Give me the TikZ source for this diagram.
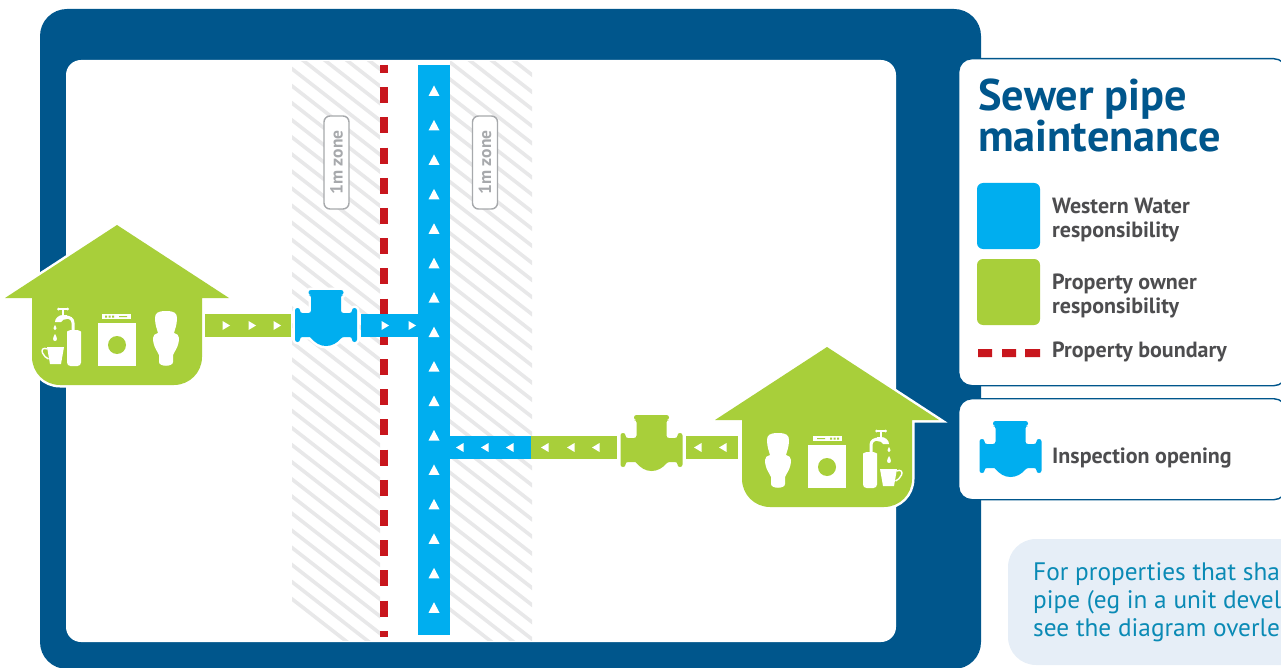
\documentclass[tikz,border=0pt]{standalone}
\usepackage{fontspec}
\setmainfont{PT Sans}
\definecolor{navy}{HTML}{00568C}
\definecolor{wblue}{HTML}{00AEEF}
\definecolor{ogreen}{HTML}{A8CF3A}
\definecolor{bred}{HTML}{C8161D}
\definecolor{hatchg}{HTML}{E8E8E9}
\definecolor{zoneg}{HTML}{A7A9AC}
\definecolor{legtxt}{HTML}{4D4D4F}
\definecolor{notebg}{HTML}{E6EEF7}
\definecolor{notetxt}{HTML}{0A8AB5}
\tikzset{
  x=1pt,y=-1pt,
  pipeline/.style={line width=23pt,line cap=butt},
  redline/.style={bred,line width=8pt,dash pattern=on 16pt off 14.2pt},
  hatchline/.style={hatchg,line width=3.6pt},
  zonebox/.style={draw=zoneg,line width=1.4pt,fill=white,rounded corners=6pt,rotate=90,minimum width=93pt,minimum height=25pt,inner sep=0pt,text=zoneg,font=\fontsize{17.5}{18}\selectfont\bfseries},
  panel/.style={fill=white,draw=navy,line width=1.4pt,rounded corners=13pt},
  swatch/.style={rounded corners=6pt},
  legendlabel/.style={anchor=base west,inner sep=0pt,align=left,text=legtxt,font=\fontsize{22}{24}\selectfont\bfseries},
}
\newcommand{\valvepath}{[rounded corners=2.4pt] (-17.5,0) -- (17.5,0) -- (17.5,5) -- (15,5) -- (15,23) -- (26,23) -- (26,18) -- (31,18) -- (31,52) -- (26,52) -- (26,47) -- (16,47) [sharp corners] .. controls (11,53) and (6,56) .. (0,56) .. controls (-6,56) and (-11,53) .. (-16,47) [rounded corners=2.4pt] -- (-26,47) -- (-26,52) -- (-31,52) -- (-31,18) -- (-26,18) -- (-26,23) -- (-15,23) -- (-15,5) -- (-17.5,5) -- cycle}
\newcommand{\valveicon}[4]{% cx, top, colour, outline
  \begin{scope}[shift={(#1,#2)}]
    \path[fill=#4,draw=#4,line width=5pt,line join=round] \valvepath;
    \fill[#3] \valvepath;
  \end{scope}}
\newcommand{\househape}{(0,0) -- (112,73) -- (85,73) -- (85,132) .. controls (85,147.5) and (72.5,160) .. (57,160) -- (-57,160) .. controls (-72.5,160) and (-85,147.5) .. (-85,132) -- (-85,73) -- (-112,73) -- cycle}
\newcommand{\house}[3]{% apex x, apex y, mirror
  \begin{scope}[shift={(#1,#2)},xscale=#3]
    \path[fill=white,draw=white,line width=5pt,miter limit=10] \househape;
    \fill[ogreen] \househape;
    % washing machine
    \fill[white] (-19,98) rectangle (19,141);
    \fill[ogreen] (0,120) circle[radius=9];
    \fill[white] (-15,89) rectangle (14,94);
    \fill[ogreen] (-12,90.5) rectangle (-10,92.5) (-8.5,90.5) rectangle (-6.5,92.5) (-5,90.5) rectangle (-3,92.5) (2,91) rectangle (10,92);
    % toilet
    \fill[white] (49,86) .. controls (57,86) and (60,88) .. (60,93) .. controls (60,100) and (58,104) .. (57,108) .. controls (60,109) and (62,110) .. (62,113) .. controls (62,122) and (57,127) .. (56,130) -- (56,137) .. controls (56,142) and (42,142) .. (42,137) -- (42,130) .. controls (41,127) and (36,122) .. (36,113) .. controls (36,110) and (38,109) .. (41,108) .. controls (40,104) and (38,100) .. (38,93) .. controls (38,88) and (41,86) .. (49,86) -- cycle;
    % bottle and tap
    \fill[white,rounded corners=3.5pt] (-50,110) .. controls (-50,107) and (-48,105) .. (-43,105) .. controls (-38,105) and (-36,107) .. (-36,110) -- (-36,141) -- (-50,141) -- cycle;
    \draw[white,line width=3pt] (-44,106) -- (-44,98) .. controls (-44,94) and (-47,92) .. (-52,92);
    \fill[white] (-62,97) .. controls (-62,93) and (-58,90) .. (-54,90) -- (-50,90) -- (-50,94) .. controls (-53,94) and (-55,95) .. (-56,97) -- cycle;
    \draw[white,line width=1.6pt] (-54,84) -- (-54,91) (-58.5,84) -- (-49.5,84);
    \fill[white] (-58.5,84) circle[radius=1.5] (-49.5,84) circle[radius=1.5];
    \fill[white] (-62,100) .. controls (-60,103) and (-60,105) .. (-62,105) .. controls (-64,105) and (-64,103) .. (-62,100) -- cycle;
    \fill[white] (-62,109) .. controls (-59.5,113) and (-59.5,116) .. (-62,116) .. controls (-64.5,116) and (-64.5,113) .. (-62,109) -- cycle;
    % cup
    \fill[white] (-70,122) -- (-53,122) -- (-56,139) -- (-67,139) -- cycle;
    \draw[white,line width=1.4pt] (-69.5,124) .. controls (-74,122) and (-76,125) .. (-74.5,128) .. controls (-73,131) and (-71,133) .. (-68.5,134);
  \end{scope}}
\begin{document}
\begin{tikzpicture}
\useasboundingbox (0,0) rectangle (1281,668);
\clip (0,0) rectangle (1281,668);
% frame
\fill[navy,rounded corners=27pt] (40,9) rectangle (981,669);
\fill[white,rounded corners=15pt] (66,60) rectangle (896,642);
% 1 m zones
\begin{scope}
  \clip (292,62) rectangle (380,640);
  \foreach \k in {-2,...,35} \draw[hatchline] (285,{-5+17.1*\k}) -- (390,{-5+17.1*\k+81.9});
\end{scope}
\begin{scope}
  \clip (450,62) rectangle (532,640);
  \foreach \k in {-2,...,35} \draw[hatchline] (445,{7+17.1*\k}) -- (540,{7+17.1*\k+74.1});
\end{scope}
\node[zonebox] (zoneA) at (336.5,162.5) {1m zone};
\node[zonebox] (zoneB) at (485,162.5) {1m zone};
% boundary
\coordinate (redtop) at (384,65);
\coordinate (redbot) at (384,637);
\draw[redline,dash phase=8pt] (redtop) -- (redbot);
% pipes
\coordinate (maintop) at (434,65);
\coordinate (mainbot) at (434,635);
\draw[wblue,line width=32pt] (maintop) -- (mainbot);
\coordinate (h1out) at (205,325.5);
\coordinate (v1in) at (291,325.5);
\coordinate (v1out) at (361,325.5);
\coordinate (j1) at (418,325.5);
\draw[pipeline,ogreen] (h1out) -- (v1in);
\draw[pipeline,wblue] (v1out) -- (j1);
\coordinate (j2) at (450,447.5);
\coordinate (sw) at (531,447.5);
\coordinate (v2w) at (617,447.5);
\coordinate (v2e) at (686,447.5);
\coordinate (h2in) at (738,447.5);
\draw[pipeline,wblue] (j2) -- (sw);
\draw[pipeline,ogreen] (sw) -- (v2w);
\draw[pipeline,ogreen] (v2e) -- (h2in);
% flow arrows
\foreach \i in {0,...,15} \fill[white,shift={(434,{91+34.45*\i})}] (-5.5,5) -- (5.5,5) -- (0,-5.5) -- cycle;
\foreach \px in {226,252,277,385,412} \fill[white,shift={(\px,325.5)}] (-3.5,-4.5) -- (4,0) -- (-3.5,4.5) -- cycle;
\foreach \px in {460,485,510,545,571,596,698,723} \fill[white,shift={(\px,447.5)}] (3.5,-4.5) -- (-4,0) -- (3.5,4.5) -- cycle;
% inspection openings
\valveicon{326}{290}{wblue}{white}
\valveicon{651.5}{415}{ogreen}{white}
% houses
\house{117}{225}{1}
\house{827}{347}{-1}
% legend
\node[panel,minimum width=328pt,minimum height=327pt,anchor=north west,inner sep=0pt] (legendA) at (958,58) {};
\node[panel,minimum width=328pt,minimum height=101pt,anchor=north west,inner sep=0pt] (legendB) at (958,398) {};
\node[anchor=base west,inner sep=0pt,align=left,text=navy,font=\fontsize{44.3}{38.7}\selectfont\bfseries] (title) at (978,152) {Sewer pipe\\maintenance};
\fill[wblue,swatch] (977,183) rectangle (1040,249);
\fill[ogreen,swatch] (977,259) rectangle (1040,325);
\fill[bred] (978,349) rectangle (992,357) (1002,349) rectangle (1016,357) (1025,349) rectangle (1040,357);
\node[legendlabel] (lblA) at (1052,237) {Western Water\\responsibility};
\node[legendlabel] (lblB) at (1052,313) {Property owner\\responsibility};
\node[legendlabel] (lblC) at (1052,357) {Property boundary};
\valveicon{1010.5}{421}{wblue}{white}
\node[legendlabel] (lblD) at (1052,463) {Inspection opening};
% note
\fill[notebg,rounded corners=28pt] (1008,539) rectangle (1330,665);
\node[anchor=base west,inner sep=0pt,align=left,text=notetxt,font=\fontsize{25.3}{28}\selectfont] (note) at (1033,636) {For properties that sha\\pipe (eg in a unit devel\\see the diagram overle};
\end{tikzpicture}
\end{document}
